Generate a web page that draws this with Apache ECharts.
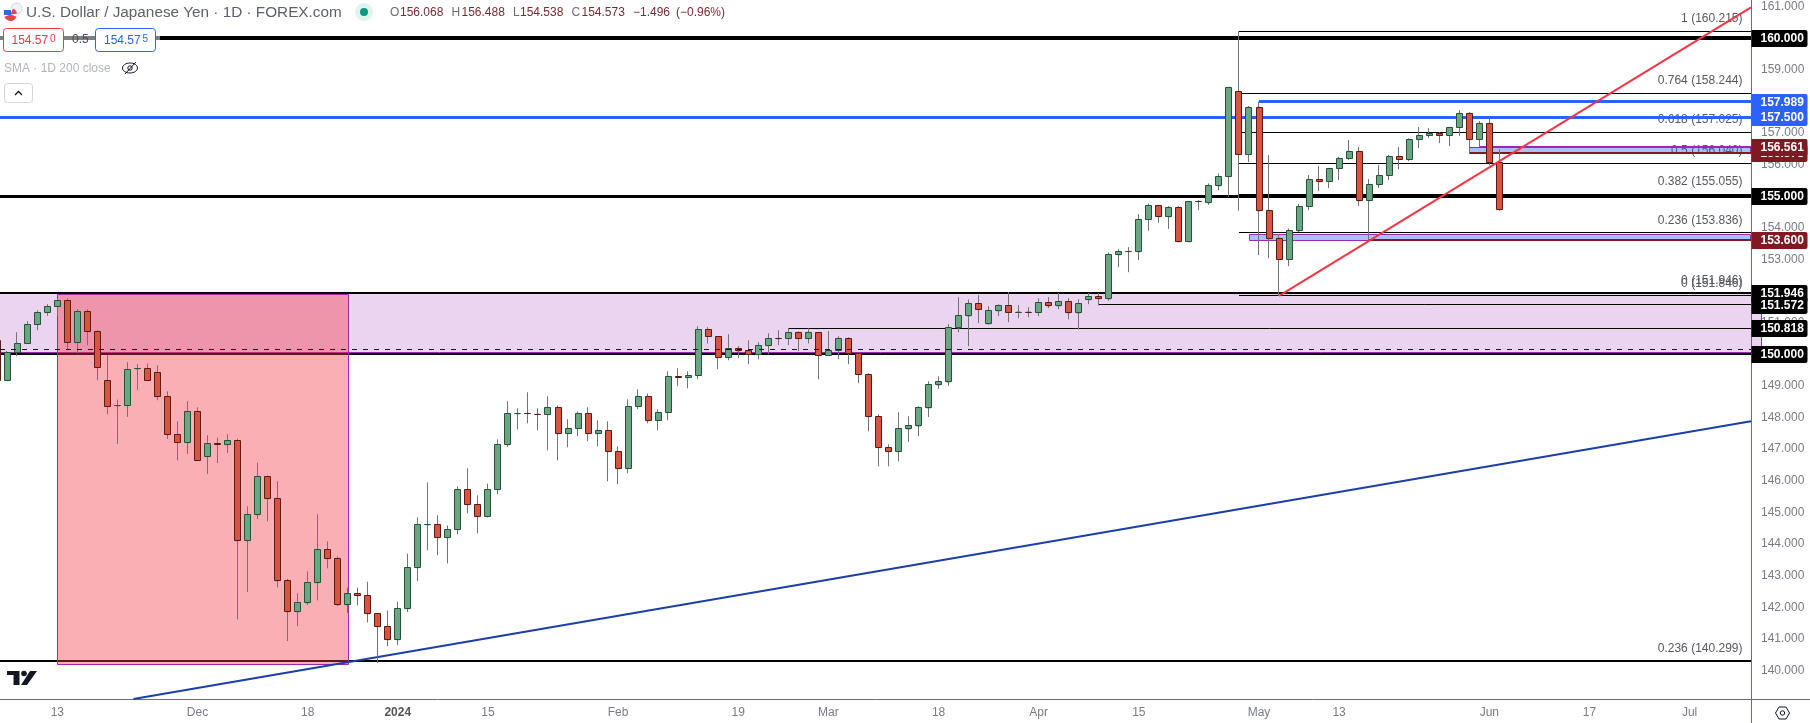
<!DOCTYPE html>
<html><head><meta charset="utf-8"><title>USD/JPY</title>
<style>html,body{margin:0;padding:0;background:#fff}#c{width:1810px;height:723px}</style>
<script src="https://cdn.jsdelivr.net/npm/echarts@6/dist/echarts.min.js"></script></head>
<body><div id="c"></div>
<script>
// ---- bar values, index 0 is the partially visible bar at the left edge ----
const opens=[150.443,149.167,150.053,150.338,150.939,151.319,151.509,151.699,150.369,151.350,
150.717,149.167,148.371,148.376,149.541,149.546,149.420,148.660,147.458,147.205,
148.186,146.761,147.165,147.141,147.268,144.103,144.926,146.129,145.432,142.837,
141.856,142.141,142.774,143.818,143.534,142.078,142.426,142.363,141.793,141.381,
140.970,141.951,143.249,144.604,144.609,144.198,144.451,145.717,145.243,144.884,
145.717,147.141,148.117,148.127,148.106,148.091,148.312,147.489,147.648,148.122,
147.489,147.584,146.920,146.382,148.344,148.660,147.901,148.154,149.288,149.262,
149.325,150.781,150.559,149.895,150.179,150.116,149.990,150.274,150.501,150.496,
150.686,150.496,150.686,149.958,150.116,150.496,150.021,149.357,148.027,147.046,
146.920,147.637,147.732,148.302,149.030,149.125,150.833,151.213,151.604,150.960,
151.371,151.540,151.327,151.332,151.319,151.635,151.530,151.667,151.308,151.720,
151.825,151.751,153.144,153.246,153.239,154.262,154.705,154.346,154.642,153.555,
154.834,154.789,155.327,155.622,158.312,156.319,157.806,154.546,153.660,152.996,
153.903,154.673,155.527,155.464,155.876,156.192,156.414,154.852,155.369,155.654,
156.255,156.160,156.793,156.920,156.983,156.920,157.173,157.616,156.793,157.300,156.068];
const closes=[149.156,150.053,150.338,150.939,151.319,151.509,151.699,150.369,151.350,150.717,
149.578,148.344,148.376,149.515,149.546,149.167,148.660,147.458,147.205,148.186,
146.635,147.173,147.160,147.268,144.103,144.926,146.129,145.432,142.837,141.856,
142.141,142.774,143.818,143.534,142.078,142.426,142.363,141.793,141.381,140.970,
141.951,143.249,144.609,144.609,144.198,144.451,145.717,145.243,144.884,145.717,
147.141,148.122,148.122,148.122,148.096,148.312,147.489,147.648,148.122,147.489,
147.584,146.920,146.382,148.344,148.660,147.901,148.154,149.293,149.278,149.325,
150.781,150.559,149.895,150.179,150.106,149.990,150.274,150.496,150.491,150.686,
150.496,150.686,149.958,150.116,150.496,150.021,149.357,148.027,147.046,146.920,
147.648,147.743,148.312,149.040,149.135,150.844,151.224,151.604,151.414,151.382,
151.540,151.319,151.332,151.327,151.635,151.530,151.667,151.308,151.604,151.825,
151.751,153.154,153.249,153.251,154.262,154.705,154.346,154.642,153.555,154.831,
154.829,155.338,155.622,158.439,156.319,157.806,154.536,153.650,152.996,153.913,
154.673,155.527,155.454,155.876,156.192,156.414,154.852,155.369,155.654,156.255,
156.160,156.793,156.920,156.983,156.920,157.173,157.616,156.793,157.300,156.068,154.573];
const highs=[150.549,150.106,150.696,151.044,151.393,151.582,151.762,151.762,151.424,151.424,
150.760,149.968,148.565,149.747,149.684,149.705,149.652,148.829,147.880,148.513,
148.323,147.437,147.363,147.468,147.331,145.190,146.572,146.160,145.981,142.900,
142.436,143.133,144.937,144.082,143.607,142.616,142.616,142.806,141.793,141.898,
142.173,143.692,144.841,145.949,144.905,144.588,145.823,146.392,145.538,145.907,
147.310,148.513,148.291,148.798,148.291,148.671,148.376,147.943,148.186,148.323,
147.911,147.880,147.089,148.576,148.892,148.755,148.259,149.462,149.557,149.462,
150.886,150.855,150.559,150.633,150.253,150.443,150.380,150.665,150.760,150.823,
150.717,150.823,150.686,150.728,150.570,150.538,150.063,149.399,148.101,147.152,
148.165,148.038,148.354,149.146,149.304,150.950,151.804,151.730,151.867,151.519,
151.582,151.962,151.551,151.487,151.772,151.804,151.931,151.772,151.741,151.931,
151.931,153.218,153.323,153.386,154.431,154.768,154.705,154.684,154.684,154.831,
154.874,155.401,155.717,158.439,160.215,157.848,157.989,156.298,153.797,153.977,
154.747,155.665,155.949,155.876,156.245,156.772,156.551,155.538,155.981,156.298,
156.551,156.825,157.184,157.152,157.026,157.173,157.722,157.658,157.374,157.447,156.488];
const lows=[149.072,149.167,149.937,150.338,150.760,151.213,151.213,150.158,150.032,150.285,
149.177,148.101,147.162,148.017,148.861,149.167,148.544,147.321,146.645,146.846,
146.635,146.213,146.561,146.878,141.614,142.479,144.789,144.715,142.626,140.928,
141.403,142.067,142.215,143.228,142.036,141.824,142.057,141.519,140.232,140.770,
140.801,141.846,142.827,143.797,143.639,143.386,144.304,144.968,144.335,144.841,
145.570,147.068,147.627,147.816,147.595,146.962,146.645,147.057,147.405,147.247,
147.089,145.981,145.886,146.234,148.259,147.816,147.595,147.911,148.987,148.924,
149.209,150.338,149.525,149.810,149.874,149.684,149.842,150.000,150.285,150.285,
150.095,150.338,149.209,149.958,149.842,149.684,149.082,147.563,146.455,146.455,
146.614,147.226,147.405,148.017,148.903,148.998,150.696,150.253,150.981,150.960,
151.203,151.013,151.139,151.171,151.203,151.456,151.424,151.108,150.781,151.582,
151.540,151.688,152.753,152.595,152.975,153.903,154.156,153.966,153.555,153.555,
154.557,154.726,155.190,154.979,154.536,156.076,153.133,153.038,151.846,152.785,
153.861,154.557,155.158,155.253,155.506,156.139,154.684,153.600,155.253,155.506,
155.855,156.108,156.519,156.836,156.677,156.582,156.899,156.350,156.561,155.971,154.538];

// ---- axes ----
const priceTicks=[140,141,142,143,144,145,146,147,148,149,150,151,152,153,154,155,156,157,158,159,160,161];
const dateTickBars=[6,20,31,40,49,62,74,83,94,104,114,126,134,149,159,169];
const dateTickLabels=['13','Dec','18','2024','15','Feb','19','Mar','18','Apr','15','May','13','Jun','17','Jul'];
const BAR_MIN=0.278, BAR_MAX=175.13, PRICE_MIN=139.097, PRICE_MAX=161.202;

// ---- levels: [first bar, price] ----
const heavyLevels=[[BAR_MIN,151.946],[BAR_MIN,150],[BAR_MIN,140.299]];
const level160=[[BAR_MIN,160]];
const level155=[[BAR_MIN,155]];
const blueLevels=[[BAR_MIN,157.5],[126,157.989]];
const fibLevels=[[124,160.215],[124,158.244],[124,157.025],[124,156.04],[124,155.055],[124,153.836],[124,151.846],[110,151.572],[79,150.818]];
const fibLabelLevels=[160.215,158.244,157.025,156.04,155.055,153.836,151.946,151.846,140.299];
const fibLabelText=['1 (160.215)','0.764 (158.244)','0.618 (157.025)','0.5 (156.040)','0.382 (155.055)','0.236 (153.836)','0 (151.946)','0 (151.846)','0.236 (140.299)'];
const dashedLevel=[[BAR_MIN,150.149]];
const darkRedLevels=[[137,153.6],[147,156.378]];
const purpleLevels=[[148,156.561]];
// ---- boxes: [first bar, last bar, top price, bottom price] ----
const zoneBox=[[BAR_MIN-1,BAR_MAX+1,151.946,150.085]];
const redBox=[[6,35,151.9,140.21]];
const blueBoxes=[[125,BAR_MAX-0.1,153.81,153.62],[147,BAR_MAX-0.1,156.55,156.36]];
// ---- trend lines: [bar, price] ----
const supportLine=[[13.6,139.097],[BAR_MAX,147.88]];
const risingLine=[[128,151.846],[BAR_MAX,160.97]];
// ---- right-hand price tags ----
const tagPrices=[160,157.989,157.5,156.378,156.561,155,153.6,151.946,151.572,150.818,150];
const tagKinds=['k','b','b','r','r','k','r','k','k','k','k'];

const FONT='"Liberation Sans",Arial,sans-serif';
const barData=opens.map((o,i)=>[i,o,closes[i],lows[i],highs[i]]);

const base={silent:true,animation:false,tooltip:{show:false}};
function crisp(v,w){return w%2?Math.floor(v)+0.5:Math.round(v);}
function levelSeries(name,rows,width,color,z,dash){
  return Object.assign({},base,{type:'custom',name,z,data:rows,encode:{x:0,y:1},
    renderItem(p,api){
      const a=api.coord([api.value(0),api.value(1)]);
      const rightEdge=p.coordSys.x+p.coordSys.width;
      const y=crisp(a[1],width);
      return {type:'line',shape:{x1:a[0],y1:y,x2:rightEdge,y2:y},
        style:{stroke:color,lineWidth:width,lineDash:dash||null}};
    }});
}
function boxSeries(name,rows,fill,stroke,z){
  return Object.assign({},base,{type:'custom',name,z,data:rows,encode:{x:[0,1],y:[2,3]},
    renderItem(p,api){
      const a=api.coord([api.value(0),api.value(2)]);
      const b=api.coord([api.value(1),api.value(3)]);
      const x=Math.round(a[0])+0.5,y=Math.round(a[1])+0.5;
      return {type:'rect',shape:{x,y,width:Math.round(b[0])-Math.round(a[0]),height:Math.round(b[1])-Math.round(a[1])},
        style:{fill,stroke,lineWidth:1}};
    }});
}
function trendSeries(name,rows,color,z){
  return Object.assign({},base,{type:'line',name,z,data:rows,showSymbol:false,symbol:'none',clip:true,
    lineStyle:{color,width:2,cap:'butt'}});
}

const series=[
  boxSeries('zone',zoneBox,'rgba(156,39,176,0.2)','#9c27b0',1),
  levelSeries('fibs',fibLevels,1,'#000',2),
  levelSeries('heavy',heavyLevels,2,'#000',2),
  levelSeries('155',level155,3,'#000',2),
  levelSeries('160',level160,4,'#000',2),
  levelSeries('blue',blueLevels,3,'#2962ff',3),
  // fib labels sit beneath the boxes and the blue levels
  Object.assign({},base,{type:'custom',name:'fibLabels',z:2,data:fibLabelLevels.map(v=>[BAR_MAX,v]),encode:{x:0,y:1},
    renderItem(p,api){
      const a=api.coord([api.value(0),api.value(1)]);
      return {type:'text',style:{text:fibLabelText[p.dataIndex],x:a[0]-8.5,y:a[1]-12.5,align:'right',verticalAlign:'middle',
        fill:'#55585f',font:'12px '+FONT}};
    }}),
  boxSeries('blueBoxes',blueBoxes,'rgba(41,98,255,0.4)','#9c27b0',4),
  levelSeries('darkRed',darkRedLevels,2,'#801922',5),
  levelSeries('purple',purpleLevels,2,'#9c27b0',5),
  boxSeries('redBox',redBox,'rgba(242,54,69,0.4)','#9c27b0',6),
  trendSeries('support',supportLine,'#1c3fa8',7),
  {type:'candlestick',name:'USD/JPY',z:8,silent:true,animation:false,barWidth:4,data:barData,encode:{x:0,y:[1,2,3,4]},
    itemStyle:{color:'#6ba583',color0:'#d75442',borderColor:'#737375',borderColor0:'#737375',borderColorDoji:'#737375',borderWidth:1}},
  Object.assign({},base,{type:'custom',name:'bodies',z:9,data:barData,encode:{x:0,y:[1,2,3,4]},
    renderItem(p,api){
      const o=api.value(1),c=api.value(2);
      const top=api.coord([api.value(0),Math.max(o,c)]);
      const bot=api.coord([api.value(0),Math.min(o,c)]);
      const x=Math.floor(top[0])+0.5,y0=Math.floor(top[1])+0.5,y1=Math.floor(bot[1])+0.5;
      const up=c>=o;
      return {type:'rect',shape:{x:x-3,y:y0,width:6,height:y1-y0},
        style:{fill:up?'#6ba583':'#d75442',stroke:up?'#225437':'#5b1a13',lineWidth:1}};
    }}),
  levelSeries('dashed',dashedLevel,1,'#131722',10,[5,6]),
  trendSeries('rising',risingLine,'#f23645',11),
  // right-hand tags
  Object.assign({},base,{type:'custom',name:'tags',z:20,data:tagPrices.map(v=>[BAR_MAX,v]),encode:{x:0,y:1},
    renderItem(p,api){
      const a=api.coord([api.value(0),api.value(1)]);
      const kind=tagKinds[p.dataIndex];
      const fill=kind==='b'?'#2962ff':kind==='r'?'#801922':'#000';
      const y=Math.round(a[1]);
      return {type:'group',children:[
        {type:'rect',shape:{x:a[0]+0.5,y:y-8,width:56,height:17,r:[0,2,2,0]},style:{fill}},
        {type:'text',style:{text:api.value(1).toFixed(3),x:a[0]+9.5,y:y+0.5,align:'left',verticalAlign:'middle',
          fill:'#fff',font:'bold 12px '+FONT}}
      ]};
    }}),
  // small marker for the dashed level on the axis
  Object.assign({},base,{type:'custom',name:'dashMark',z:19,data:dashedLevel.map(r=>[BAR_MAX,r[1]]),encode:{x:0,y:1},
    renderItem(p,api){
      const a=api.coord([api.value(0),api.value(1)]);
      return {type:'polygon',shape:{points:[[a[0]+1,a[1]],[a[0]+6,a[1]-4],[a[0]+6,a[1]+4]]},style:{fill:'#2a2e39'}};
    }})
];

// ---- header and chrome ----
const txt=(text,x,y,fill,font,align)=>({type:'text',x,y,z:100,silent:true,style:{text,fill,font:font+' '+FONT,align:align||'left',verticalAlign:'middle'}});
const F12='12px',F16='15.3px';
const pairs=[['O',390,'156.068',400],['H',451.5,'156.488',461.5],['L',513,'154.538',520],['C',571.5,'154.573',581.5]];
const ohlc=[];
pairs.forEach(p=>{ohlc.push(txt(p[0],p[1],13,'#6a6d78',F12));ohlc.push(txt(p[2],p[3],13,'#7d2a2e',F12));});
const graphic=[
  // legend wash over the 160 line
  {type:'rect',z:90,silent:true,shape:{x:0,y:35,width:160,height:6},style:{fill:'rgba(255,255,255,0.5)'}},
  // flag
  {type:'circle',z:100,silent:true,shape:{cx:16.5,cy:8.5,r:5.5},style:{fill:'#f0f3fa',stroke:'#d1d4dc',lineWidth:1}},
  {type:'circle',z:101,silent:true,shape:{cx:10.5,cy:14.5,r:6.5},style:{fill:'#fff'}},
  {type:'sector',z:102,silent:true,shape:{cx:10.5,cy:14.5,r:6.5,startAngle:0.35,endAngle:2.8},style:{fill:'#e8424c'}},
  {type:'sector',z:102,silent:true,shape:{cx:10.5,cy:14.5,r:6.5,startAngle:-1.2,endAngle:-0.1},style:{fill:'#e8424c'}},
  {type:'rect',z:103,silent:true,shape:{x:4,y:10,width:7,height:5},style:{fill:'#2f6bd6'}},
  txt('U.S. Dollar / Japanese Yen · 1D · FOREX.com',26,13,'#5d606b',F16),
  {type:'circle',z:100,silent:true,shape:{cx:364,cy:12,r:9},style:{fill:'#dff3ef'}},
  {type:'circle',z:101,silent:true,shape:{cx:364,cy:12,r:4},style:{fill:'#089981'}},
  ...ohlc,
  txt('−1.496',633,13,'#7d2a2e',F12),
  txt('(−0.96%)',676,13,'#7d2a2e',F12),
  // buy and sell boxes
  {type:'rect',z:100,silent:true,shape:{x:3.5,y:28.5,width:60,height:23,r:3},style:{fill:'#fff',stroke:'#f23645',lineWidth:1}},
  txt('154.57',11.5,41,'#f23645',F12),
  txt('0',50,39,'#f23645','10px'),
  txt('0.5',72,40,'#4a4d55',F12),
  {type:'rect',z:100,silent:true,shape:{x:95.5,y:28.5,width:60,height:23,r:3},style:{fill:'#fff',stroke:'#2962ff',lineWidth:1}},
  txt('154.57',104,41,'#2962ff',F12),
  txt('5',142.5,39,'#2962ff','10px'),
  // SMA legend row
  txt('SMA · 1D 200 close',4,68.5,'#b2b5be','12px'),
  {type:'ellipse',z:100,silent:true,shape:{cx:130,cy:68,rx:7.5,ry:5},style:{fill:'none',stroke:'#131722',lineWidth:1}},
  {type:'circle',z:100,silent:true,shape:{cx:130,cy:68,r:2.2},style:{fill:'none',stroke:'#131722',lineWidth:1}},
  {type:'line',z:100,silent:true,shape:{x1:125,y1:74,x2:136,y2:62},style:{stroke:'#131722',lineWidth:1}},
  {type:'rect',z:100,silent:true,shape:{x:4.5,y:83.5,width:28,height:19,r:3},style:{fill:'#fff',stroke:'#d1d4dc',lineWidth:1}},
  {type:'polyline',z:101,silent:true,shape:{points:[[15,95],[18.5,91.5],[22,95]]},style:{fill:'none',stroke:'#131722',lineWidth:1.3}},
  // TradingView logo
  {type:'polygon',z:30,silent:true,shape:{points:[[7,671],[19.5,671],[19.5,685],[13.5,685],[13.5,675],[7,675]]},style:{fill:'#131722'}},
  {type:'circle',z:30,silent:true,shape:{cx:24,cy:673.5,r:2.8},style:{fill:'#131722'}},
  {type:'polygon',z:30,silent:true,shape:{points:[[30,671],[37,671],[27,685],[21,685]]},style:{fill:'#131722'}},
  // axis extensions and the settings glyph
  {type:'line',z:30,silent:true,shape:{x1:1751.5,y1:699,x2:1751.5,y2:723},style:{stroke:'#6a6d78',lineWidth:1}},
  {type:'line',z:30,silent:true,shape:{x1:1751,y1:699.5,x2:1810,y2:699.5},style:{stroke:'#6a6d78',lineWidth:1}},
  {type:'polygon',z:30,silent:true,shape:{points:[[1775.5,713],[1779,707],[1786,707],[1789.5,713],[1786,719],[1779,719]]},style:{fill:'none',stroke:'#131722',lineWidth:1}},
  {type:'circle',z:30,silent:true,shape:{cx:1782.5,cy:713,r:2.2},style:{fill:'none',stroke:'#131722',lineWidth:1}}
];

const chart=echarts.init(document.getElementById('c'),null,{renderer:'canvas'});
chart.setOption({
  animation:false,backgroundColor:'#fff',
  tooltip:{show:false},legend:{show:false},
  grid:{left:0,top:0,width:1751,height:699,containLabel:false,outerBoundsMode:'none'},
  xAxis:{type:'value',min:BAR_MIN,max:BAR_MAX,
    axisLine:{show:true,onZero:false,lineStyle:{color:'#6a6d78',width:1}},
    axisTick:{show:false},splitLine:{show:false},
    axisLabel:{customValues:dateTickBars,margin:8,fontFamily:FONT,fontSize:12,color:'#787b86',hideOverlap:false,
      formatter:v=>{const s=dateTickLabels[dateTickBars.indexOf(v)];return s==='2024'?'{y|'+s+'}':s;},
      rich:{y:{fontFamily:FONT,fontSize:12,fontWeight:'bold',color:'#555'}}}},
  yAxis:{type:'value',position:'right',min:PRICE_MIN,max:PRICE_MAX,
    axisLine:{show:true,onZero:false,lineStyle:{color:'#6a6d78',width:1}},
    axisTick:{show:false},splitLine:{show:false},
    axisLabel:{customValues:priceTicks,inside:false,margin:10,align:'left',fontFamily:FONT,fontSize:12,color:'#787b86',hideOverlap:false,
      formatter:v=>v.toFixed(3)}},
  series,graphic:{elements:graphic}
});
</script></body></html>
